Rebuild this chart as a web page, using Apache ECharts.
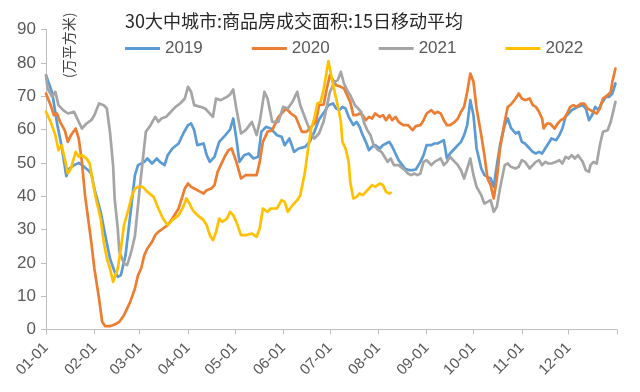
<!DOCTYPE html>
<html>
<head>
<meta charset="utf-8">
<script src="https://cdn.jsdelivr.net/npm/echarts@6/dist/echarts.min.js"></script>
<style>
html,body{margin:0;padding:0;background:#fff;}
#chart{width:640px;height:392px;}
</style>
</head>
<body>
<div id="chart"></div>
<script>
// Month tick labels and their day-of-year positions (leap-year calendar, 366 days)
const monthLabels = ['01-01','02-01','03-01','04-01','05-01','06-01','07-01','08-01','09-01','10-01','11-01','12-01'];
const monthStartDays = [0,31,60,91,121,152,182,213,244,274,305,335];
const yearLength = 366;
const seriesNames = ['2019','2020','2021','2022'];

// [day of year, value (万平方米)]
const data2019 = [[0,76.3],[4,71],[7,62],[10,55],[13,46],[15,48.3],[18,49.3],[21,50],[24,49],[27,47.8],[29,46.8],[31,42.3],[35,35.3],[38,28.3],[41,21.3],[44,17.3],[46,15.8],[48,16.3],[51,22.3],[53,30.3],[55,38.3],[57,46.3],[59,49.3],
[60,48.8],[63,50.3],[65,51.3],[68,49.8],[71,51.3],[73,50.3],[76,49.3],[78,52.3],[81,54.3],[85,55.8],[88,58.8],[91,61.3],[93,61.8],[95,59.8],[97,55.3],[101,55.8],[103,52.3],[105,50.3],[108,51.8],[111,56.3],[115,58.3],[118,60],[120,63.3],
[122,57.3],[124,50.3],[127,52.3],[130,52.8],[133,51.3],[136,51.8],[138,59.3],[141,60.8],[144,60.3],[148,58.3],[151,57.8],[153,55.3],[156,57.3],[159,53.3],[162,54.3],[166,54.8],[169,56.3],[172,59.3],[175,63],[178,65],[181,67.3],
[184,67.8],[186,66.3],[188,65.8],[190,66.8],[192,66.3],[194,63.8],[197,61.3],[199,62.3],[201,60.8],[203,58.3],[205,56.3],[207,53.8],[209,54.8],[211,55.3],[214,54.3],[216,55.3],[218,55.8],[220,56.3],[222,54.8],[224,52.8],[226,50.8],[230,48.3],[233,47.8],[235,47.8],[237,48],
[240,50.3],[242,52.3],[244,55.3],[247,55.3],[249,55.8],[251,55.8],[253,56.3],[255,56.8],[257,51.3],[259,52.8],[262,54.3],[264,55.3],[266,56.3],[268,58.3],[270,61.3],[272,68.8],[274,64.3],[276,54.3],[279,48.3],[281,46.3],[283,45.8],[285,45.3],[287,42.8],[289,49.3],[291,55.3],[294,61.3],[296,63.3],[298,60.5],
[301,58.8],[303,59.3],[305,56.3],[307,55.8],[310,54.3],[312,53.3],[314,52.8],[316,53.3],[318,52.8],[320,54.3],[322,55.8],[324,57.3],[327,56.8],[329,58.3],[331,60.3],[333,63.8],[335,64.8],[337,65.8],[339,66.3],[341,66.8],[344,67.3],[346,66.3],[348,62.8],[350,64.3],[352,66.8],[354,65.8],[356,67.8],[359,69.8],[361,69.8],[363,70.8],[365,73.8]];

const data2020 = [[0,70.8],[3,67.3],[5,64.3],[7,64.8],[9,62.3],[12,59.8],[14,56.3],[16,58.3],[19,60.3],[21,57.3],[23,50.3],[25,40.3],[27,33.3],[29,26.3],[31,18.3],[34,9.3],[36,2.3],[38,1],[41,1],[44,1.5],[47,2.3],[50,4.3],[54,8.3],[57,12.3],
[59,16.3],[61,18.3],[63,22.3],[65,24.3],[68,26.3],[70,28.3],[72,29.3],[75,30.3],[78,31.3],[81,33.3],[85,36.3],[87,39.3],[89,42.3],[91,43.8],[93,42.8],[95,42.3],[99,41.3],[101,40.8],[103,41.8],[106,42.3],[108,43.3],[110,47.3],[112,49.3],[115,52.3],[117,53.8],[119,54.3],
[122,50.3],[125,45.3],[128,46.3],[132,46.3],[135,46.3],[137,50.3],[139,56.3],[142,59.3],[145,59.8],[149,63.8],[152,65.3],[154,66.3],[157,64.8],[160,63.8],[164,59.3],[167,59.3],[170,60.8],[173,62.3],[175,67.3],[178,67.5],
[180,72.3],[182,76.3],[184,74.8],[186,73.3],[189,72.8],[191,72.3],[193,70.3],[195,68.3],[197,64.3],[199,64.3],[201,64.8],[203,64.3],[205,62.8],[207,63.8],[209,63.3],[211,64.8],[214,63.8],[216,64.3],[218,62.8],[220,64.3],[222,62.8],[224,63.8],[226,62.3],[229,61.3],[232,61.3],[235,59.8],[237,61],
[240,61.3],[242,62.8],[244,64.8],[247,65.8],[249,64.8],[251,65.3],[253,64.8],[255,62.8],[257,61.3],[259,61.3],[262,62.3],[264,63.3],[266,65.3],[268,66.8],[270,71.3],[272,76.8],[274,74.3],[276,66.3],[279,58.3],[281,52.3],[283,45.3],[285,43.3],[287,39.3],[289,45.3],[291,54.3],[294,62.3],[296,66.8],[298,67.5],
[301,69.3],[303,70.8],[305,69.3],[307,68.8],[310,69.3],[312,67.3],[314,66.8],[316,65.3],[318,63.3],[319,60.3],[321,61.8],[323,61.8],[326,60.3],[328,61.8],[330,62.8],[332,63.3],[334,64.8],[336,66.8],[338,67.3],[340,66.8],[343,67.8],[345,67.8],[347,66.3],[349,65.8],[351,65.3],[353,64.8],[355,66.3],[357,69.3],[360,70.3],[362,71.3],[363,74.3],[365,78.3]];

const data2021 = [[0,76.3],[1,72.3],[4,69.8],[6,71.3],[8,67.3],[11,65.8],[14,64.8],[18,65.3],[21,62.3],[23,60.3],[26,61.8],[29,62.8],[31,64.3],[34,67.8],[37,67.3],[39,66.3],[41,59.3],[43,49.3],[44,39.3],[46,30.3],[47,23.3],[50,19.8],[52,19.3],[54,22.3],
[55,24],[57,28],[60,42],[63,55],[64,59.3],[67,61.3],[70,63.8],[72,62.3],[74,63.3],[77,63.8],[79,64.8],[83,66.8],[86,67.8],[89,69.3],[91,72.8],[93,71.3],[95,67.3],[99,66.8],[102,66.3],[104,65.3],[107,63.8],[109,69.3],[112,68.8],[116,69.8],[118,70.5],[120,72],
[122,66.3],[125,58.8],[128,59.8],[132,62.3],[135,58.3],[137,62.3],[140,71.3],[142,69.3],[145,62.3],[149,62.3],[152,66.8],[155,66.3],[158,68.3],[161,71.3],[163,67.3],[167,62.3],[170,58.8],[172,57.3],[175,58.8],[178,62.5],
[182,71.3],[185,74.3],[187,74.8],[189,77.3],[191,73.8],[193,71.8],[195,70.3],[198,67.3],[200,66.3],[202,65.3],[204,61.8],[206,59.8],[208,58.3],[210,55.3],[213,53.8],[215,53.3],[217,51.8],[219,50.3],[221,51.3],[223,49.3],[226,49.3],[230,47.8],[232,46.8],[234,46.3],[236,46.8],[238,46.3],
[240,46.8],[242,50.3],[244,50.8],[247,49.3],[249,50.3],[251,50.8],[253,51.3],[255,49.3],[257,50.3],[259,51.8],[262,50.3],[264,49.3],[266,47.8],[268,45.3],[270,48.3],[272,51.3],[274,46.3],[276,42.8],[279,40.3],[281,37.8],[283,38.3],[285,38.8],[287,35.3],[289,36.8],[291,42.3],[294,49.3],[296,49.8],[298,48.8],
[301,48.3],[303,48.8],[305,50.8],[307,50.3],[310,48.3],[312,49.3],[314,50.3],[316,50.8],[318,49.3],[320,50.3],[322,49.8],[324,49.8],[327,50.3],[329,50.8],[331,49.8],[333,51.8],[335,51.3],[337,52.3],[339,51.3],[341,52.3],[344,50.3],[346,47.8],[348,47.3],[349,49.3],[351,50.3],[353,49.8],[355,55.3],[357,59.3],[360,59.8],[362,62.3],[365,68.3]];

const data2022 = [[0,65.3],[3,62.3],[6,58.3],[8,53.8],[10,55.3],[12,51.3],[14,46.8],[16,48.3],[19,53.3],[21,51.8],[23,52.3],[26,51.3],[28,49.8],[30,44.3],[32,39.3],[35,33.3],[37,26.3],[39,21.3],[41,18.3],[43,14.3],[46,18.3],[48,24.3],[50,31.3],[53,36.3],[55,40],
[57,42.3],[59,42.8],[62,42.8],[65,41.3],[69,39.8],[72,36.3],[75,33.3],[78,31.3],[81,32.8],[85,34.3],[88,36.8],[90,39.3],[92,37.8],[94,35.8],[97,34.3],[101,32.8],[103,31.3],[105,28.3],[107,26.8],[109,29.3],[111,33.3],[113,32.3],[116,33.3],[118,35.3],
[120,34.3],[122,32.3],[125,28.3],[128,28.3],[132,28.8],[135,27.8],[137,30.3],[139,36.3],[142,35.3],[144,36.3],[148,36.3],[151,38.8],[153,38.3],[155,35.3],[158,37.3],[161,38.8],[163,40.3],[166,47.3],[168,54.3],[170,60.3],[172,63.3],[174,67.8],[176,68.3],[178,72],[181,80.5],
[182,78.3],[184,73.3],[186,69.3],[188,64.8],[189,62.3],[190,56.3],[192,54.3],[194,50.3],[195,44.3],[197,39.3],[199,39.8],[201,40.8],[203,40.3],[205,41.3],[207,42.3],[209,43.3],[211,42.8],[214,43.8],[216,43.3],[218,41.3],[220,40.8],[221,41]];

const yMin = 0, yMax = 90, yStep = 10;
const colors = ['#5B9BD5','#ED7D31','#A5A5A5','#FFC000'];
const allData = [data2019, data2020, data2021, data2022];

const chart = echarts.init(document.getElementById('chart'), null, {renderer:'canvas'});
const textColor = '#595959';
const axisColor = '#BFBFBF';

chart.setOption({
  animation:false,
  color: colors,
  grid:{left:46, right:23, top:29.5, bottom:62.5, containLabel:false},
  graphic:[
    {type:'text', x:125, y:21, style:{text:'30大中城市:商品房成交面积:15日移动平均', font:'18px "Noto Sans CJK SC"', fill:'#262626', textVerticalAlign:'middle'}},
    {type:'text', x:62, y:78, rotation:Math.PI/2, style:{text:'(万平方米)', font:'14px "Noto Sans CJK SC"', fill:'#404040', textAlign:'left', textVerticalAlign:'top'}}
  ],
  legend:{
    left:125, top:40, padding:0, icon:'rect', itemWidth:35, itemHeight:3, itemGap:49,
    textStyle:{color:textColor, fontSize:17, fontFamily:'Liberation Sans'},
    data: seriesNames
  },
  xAxis:{
    type:'value', min:0, max:yearLength,
    splitLine:{show:false},
    axisLine:{show:true, lineStyle:{color:axisColor, width:1}},
    axisTick:{show:true, length:5, lineStyle:{color:axisColor}, customValues: monthStartDays.concat([yearLength])},
    axisLabel:{
      customValues: monthStartDays,
      rotate:45, margin:16, color:textColor, fontSize:15, fontFamily:'Liberation Sans',
      formatter:function(v){ const i = monthStartDays.indexOf(Math.round(v)); return i>=0 ? monthLabels[i] : ''; }
    }
  },
  yAxis:{
    type:'value', min:yMin, max:yMax, interval:yStep,
    splitLine:{show:false},
    axisLine:{show:true, lineStyle:{color:axisColor, width:1}},
    axisTick:{show:true, length:5, inside:false, lineStyle:{color:axisColor}},
    axisLabel:{color:textColor, fontSize:17, fontFamily:'Liberation Sans', margin:10}
  },
  series: seriesNames.map(function(name, i){
    return {
      name:name, type:'line', data: allData[i], showSymbol:false, symbol:'none',
      lineStyle:{width:2.7, color:colors[i], join:'round', cap:'round'},
      itemStyle:{color:colors[i]},
      z: 2+i
    };
  })
});
</script>
</body>
</html>
